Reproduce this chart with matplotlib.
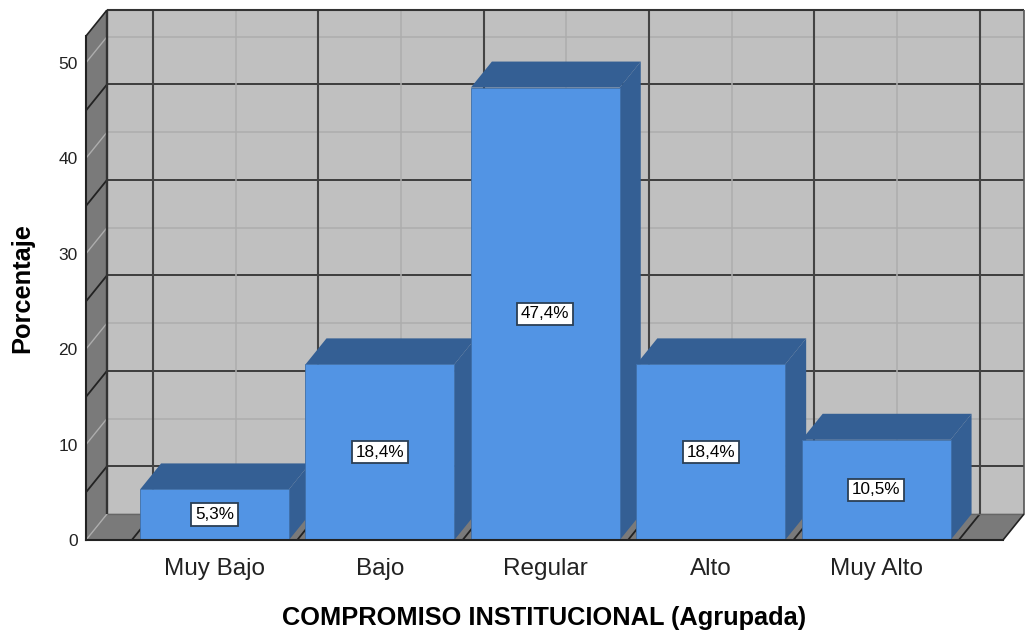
import matplotlib
matplotlib.use('Agg')
import matplotlib.pyplot as plt
from matplotlib.patches import Polygon
import numpy as np

plt.rcParams['font.family'] = ['Liberation Sans', 'DejaVu Sans']

# Values
categories = ['Muy Bajo', 'Bajo', 'Regular', 'Alto', 'Muy Alto']
percentages = [5.3, 18.4, 47.4, 18.4, 10.5]
y_ticks = [0, 10, 20, 30, 40, 50]
y_dark_lines = [5, 15, 25, 35, 45]

# 3D look: depth offset in data units, axes limits
dx = 21 / 165.4
dy = 26 / 9.55
bar_w = 0.9
x0, x1 = -0.777, 4.767
y0, y1 = 0, 52.8

back_col = '#c0c0c0'
wall_col = '#7a7a7a'
dark_line = '#333333'
light_line = '#adadad'
front_col = '#5294e4'
side_col = '#345f94'

fig = plt.figure(figsize=(10.26, 6.3), dpi=100)
ax = fig.add_axes([86 / 1026, 1 - 540 / 630, 917 / 1026, 504 / 630])
ax.set_xlim(x0, x1)
ax.set_ylim(y0, y1)


def poly(pts, fc, ec='none', lw=0, z=1):
    ax.add_patch(Polygon(pts, closed=True, facecolor=fc, edgecolor=ec,
                         linewidth=lw, zorder=z, clip_on=False))


def line(xs, ys, c, lw, z=2):
    ax.plot(xs, ys, color=c, lw=lw, zorder=z, clip_on=False, solid_capstyle='butt')


# back wall, left wall, floor
poly([(x0 + dx, dy), (x1 + dx, dy), (x1 + dx, y1 + dy), (x0 + dx, y1 + dy)], back_col)
poly([(x0, 0), (x0 + dx, dy), (x0 + dx, y1 + dy), (x0, y1)], wall_col)
poly([(x0, 0), (x0 + dx, dy), (x1 + dx, dy), (x1, 0)], wall_col)

# horizontal grid on back and left wall
for v in y_ticks:
    line([x0 + dx, x1 + dx], [v + dy, v + dy], light_line, 1.1)
    line([x0, x0 + dx], [v, v + dy], light_line, 1.0)
for v in y_dark_lines:
    line([x0 + dx, x1 + dx], [v + dy, v + dy], dark_line, 1.3)
    line([x0, x0 + dx], [v, v + dy], '#222222', 1.3)

# vertical grid on back wall and floor
for i in range(len(categories)):
    line([i + dx, i + dx], [dy, y1 + dy], light_line, 1.1)
    line([i, i + dx], [0, dy], light_line, 1.0)
for i in range(len(categories) + 1):
    b = i - 0.5
    line([b + dx, b + dx], [dy, y1 + dy], '#444444', 1.5)
    line([b, b + dx], [0, dy], '#222222', 1.3)

# frame of the 3D box
line([x0 + dx, x1 + dx], [y1 + dy, y1 + dy], dark_line, 1.5)
line([x0 + dx, x0 + dx], [dy, y1 + dy], dark_line, 1.7)
line([x1 + dx, x1 + dx], [dy, y1 + dy], '#555555', 1.2)
line([x0 + dx, x1 + dx], [dy, dy], '#666666', 1.0)
line([x0, x0 + dx], [y1, y1 + dy], '#222222', 1.2)
line([x1, x1 + dx], [0, dy], '#222222', 1.2)

# bars, front to the left so that sides overlap properly
for i, val in enumerate(percentages):
    l, r = i - bar_w / 2, i + bar_w / 2
    poly([(l, val), (l + dx, val + dy), (r + dx, val + dy), (r, val)], side_col, z=3)
    poly([(r, 0), (r + dx, dy), (r + dx, val + dy), (r, val)], side_col, z=3)
    poly([(l, 0), (r, 0), (r, val), (l, val)], front_col, ec='#3f6fa8', lw=0.6, z=4)
    ax.text(i, val / 2, f'{val:.1f}%'.replace('.', ','), ha='center', va='center',
            fontsize=12.3, color='black', zorder=6,
            bbox=dict(boxstyle='square,pad=0.22', fc='white', ec='#2b3f55', lw=1.3))

for s in ['top', 'right']:
    ax.spines[s].set_visible(False)
for s in ['left', 'bottom']:
    ax.spines[s].set_color('#222222')
    ax.spines[s].set_linewidth(1.5)
    ax.spines[s].set_zorder(5)

ax.set_xticks(range(len(categories)))
ax.set_xticklabels(categories, fontsize=17.5, color='#222222')
ax.set_yticks(y_ticks)
ax.set_yticklabels([str(v) for v in y_ticks], fontsize=12.5, color='#222222')
ax.tick_params(axis='x', length=0, pad=13)
ax.tick_params(axis='y', length=0, pad=6)

ax.set_xlabel('COMPROMISO INSTITUCIONAL (Agrupada)', fontsize=18.3, fontweight='bold', labelpad=18.5)
ax.set_ylabel('Porcentaje', fontsize=18.3, fontweight='bold', labelpad=17)

fig.savefig('out.png', dpi=100)
